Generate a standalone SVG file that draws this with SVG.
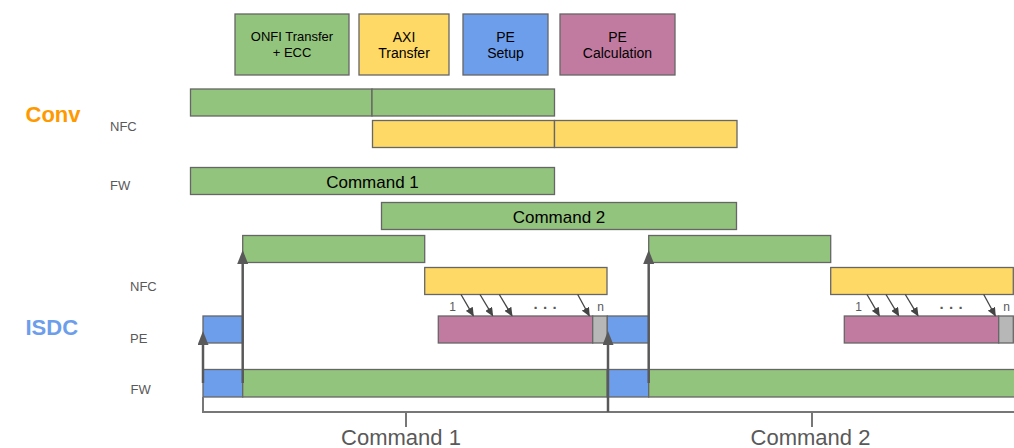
<svg xmlns="http://www.w3.org/2000/svg" width="1014" height="448" viewBox="0 0 1014 448">
<defs>
<style>
.bar{stroke:#666666;stroke-width:1.3}
.g{fill:#93c47d}.y{fill:#ffd966}.b{fill:#6d9eeb}.p{fill:#c27ba0}.s{fill:#b7b7b7}
.lt{font-family:"Liberation Sans",Arial,sans-serif;font-size:13px;fill:#000;text-anchor:middle}
.lt2{font-family:"Liberation Sans",Arial,sans-serif;font-size:14px;fill:#000;text-anchor:middle}
.row{font-family:"Liberation Sans",Arial,sans-serif;font-size:13px;fill:#595959}
.cmd{font-family:"Liberation Sans",Arial,sans-serif;font-size:17px;fill:#000;text-anchor:middle}
.ax{font-family:"Liberation Sans",Arial,sans-serif;font-size:22px;fill:#595959;text-anchor:middle}
.sm{font-family:"Liberation Sans",Arial,sans-serif;font-size:12px;fill:#595959;text-anchor:middle}
.dots{font-family:"Liberation Sans",Arial,sans-serif;font-size:15px;font-weight:bold;fill:#595959;letter-spacing:5.3px}
.big{stroke:#595959;stroke-width:2.5;fill:none}
.thin{stroke:#444444;stroke-width:1.3;fill:none}
.brk{stroke:#777777;stroke-width:2;fill:none}
</style>
<marker id="ah" markerUnits="userSpaceOnUse" markerWidth="14" markerHeight="11" refX="6" refY="5.5" orient="auto">
<path d="M0,0 L14,5.5 L0,11 z" fill="#595959"/>
</marker>
<marker id="ahs" markerUnits="userSpaceOnUse" markerWidth="9" markerHeight="8" refX="8" refY="4" orient="auto">
<path d="M0,0 L9,4 L0,8 z" fill="#444444"/>
</marker>
</defs>

<g id="legend">
<g id="legend-onfi"><rect class="bar g" x="235" y="14" width="114" height="61"/><text class="lt" x="292" y="41">ONFI Transfer</text><text class="lt" x="292" y="57">+ ECC</text></g>
<g id="legend-axi"><rect class="bar y" x="359" y="14" width="90" height="61"/><text class="lt2" x="404" y="41.5">AXI</text><text class="lt2" x="404" y="58">Transfer</text></g>
<g id="legend-pesetup"><rect class="bar b" x="463" y="14" width="85" height="61"/><text class="lt2" x="505.5" y="41.5">PE</text><text class="lt2" x="505.5" y="58">Setup</text></g>
<g id="legend-pecalc"><rect class="bar p" x="560" y="14" width="115" height="61"/><text class="lt2" x="617.5" y="41.5">PE</text><text class="lt2" x="617.5" y="58">Calculation</text></g>
</g>

<g id="conv">
<text x="25.5" y="122" font-family="Liberation Sans, Arial, sans-serif" font-size="22" font-weight="bold" fill="#ff9900">Conv</text>
<text class="row" x="110" y="131">NFC</text>
<text class="row" x="110" y="189.5">FW</text>
<g id="conv-nfc-onfi1"><rect class="bar g" x="190.5" y="89" width="181.5" height="27"/></g>
<g id="conv-nfc-onfi2"><rect class="bar g" x="372" y="89" width="182.5" height="27"/></g>
<g id="conv-nfc-axi1"><rect class="bar y" x="372.5" y="120.5" width="182" height="27"/></g>
<g id="conv-nfc-axi2"><rect class="bar y" x="554.5" y="120.5" width="182.5" height="27"/></g>
<g id="conv-cmd1"><rect class="bar g" x="190.5" y="167.5" width="364" height="27"/><text class="cmd" x="372.5" y="187.5">Command 1</text></g>
<g id="conv-cmd2"><rect class="bar g" x="381.5" y="202.5" width="355" height="27"/><text class="cmd" x="559" y="222.5">Command 2</text></g>
</g>

<g id="isdc">
<text x="25.5" y="335" font-family="Liberation Sans, Arial, sans-serif" font-size="22" font-weight="bold" fill="#6d9eeb">ISDC</text>
<text class="row" x="130" y="291">NFC</text>
<text class="row" x="130" y="343">PE</text>
<text class="row" x="130.5" y="393.5">FW</text>
<g id="isdc-nfc-onfi1"><rect class="bar g" x="242.7" y="235.5" width="182" height="27"/></g>
<g id="isdc-nfc-onfi2"><rect class="bar g" x="648.7" y="235.5" width="182" height="27"/></g>
<g id="isdc-nfc-axi1"><rect class="bar y" x="424.7" y="267.5" width="182.3" height="27"/></g>
<g id="isdc-nfc-axi2"><rect class="bar y" x="830.7" y="267.5" width="182.6" height="27"/></g>
<g id="isdc-pe-setup1"><rect class="bar b" x="203" y="316" width="39.7" height="27"/></g>
<g id="isdc-pe-calc1"><rect class="bar p" x="438.3" y="316" width="154.4" height="27"/></g>
<g id="isdc-pe-tail1"><rect class="bar s" x="592.7" y="316" width="14.6" height="27"/></g>
<g id="isdc-pe-setup2"><rect class="bar b" x="607.3" y="316" width="41.4" height="27"/></g>
<g id="isdc-pe-calc2"><rect class="bar p" x="844.3" y="316" width="154.4" height="27"/></g>
<g id="isdc-pe-tail2"><rect class="bar s" x="998.7" y="316" width="14.6" height="27"/></g>
<g id="isdc-fw-setup1"><rect class="bar b" x="203" y="369.5" width="39.7" height="27.5"/></g>
<g id="isdc-fw-cmd1"><rect class="bar g" x="242.7" y="369.5" width="364.6" height="27.5"/></g>
<g id="isdc-fw-setup2"><rect class="bar b" x="607.3" y="369.5" width="41.4" height="27.5"/></g>
<g id="isdc-fw-cmd2"><rect class="bar g" x="648.7" y="369.5" width="370" height="27.5"/></g>
<text class="sm" x="452.7" y="310.5">1</text>
<text class="sm" x="600.7" y="310.5">n</text>
<text class="sm" x="858.7" y="310.5">1</text>
<text class="sm" x="1006.5" y="310.5">n</text>
<text class="dots" x="533.5" y="309">...</text>
<text class="dots" x="939.5" y="309">...</text>
</g>

<g id="axis">
<path class="brk" d="M203,397 V412 H1016"/>
<line class="brk" x1="406" y1="412" x2="406" y2="427"/>
<line class="brk" x1="812" y1="412" x2="812" y2="427"/>
<text class="ax" x="401" y="445">Command 1</text>
<text class="ax" x="810.5" y="445">Command 2</text>
</g>

<g id="connectors">
<line class="big" x1="203" y1="383" x2="203" y2="339" marker-end="url(#ah)"/>
<line class="big" x1="242.7" y1="383" x2="242.7" y2="258" marker-end="url(#ah)"/>
<line class="big" x1="608" y1="412" x2="608" y2="339" marker-end="url(#ah)"/>
<line class="big" x1="648.7" y1="383" x2="648.7" y2="258" marker-end="url(#ah)"/>
<line class="thin" x1="461" y1="294.5" x2="473.3" y2="315.7" marker-end="url(#ahs)"/>
<line class="thin" x1="480" y1="294.5" x2="492.7" y2="315.7" marker-end="url(#ahs)"/>
<line class="thin" x1="499.3" y1="294.5" x2="512" y2="315.7" marker-end="url(#ahs)"/>
<line class="thin" x1="577.7" y1="294.5" x2="589.3" y2="315.7" marker-end="url(#ahs)"/>
<line class="thin" x1="867" y1="294.5" x2="879.3" y2="315.7" marker-end="url(#ahs)"/>
<line class="thin" x1="886" y1="294.5" x2="898.7" y2="315.7" marker-end="url(#ahs)"/>
<line class="thin" x1="905.3" y1="294.5" x2="918" y2="315.7" marker-end="url(#ahs)"/>
<line class="thin" x1="983.7" y1="294.5" x2="995.3" y2="315.7" marker-end="url(#ahs)"/>
</g>
</svg>
